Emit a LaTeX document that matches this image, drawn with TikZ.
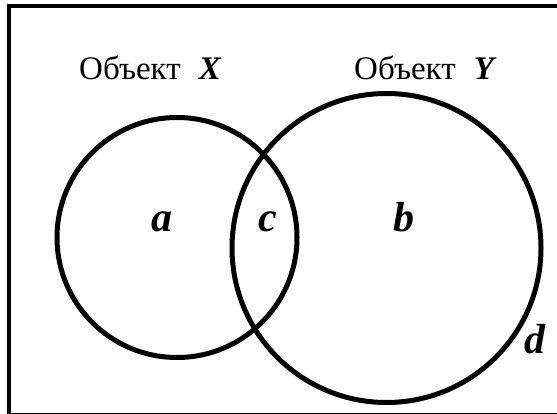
\documentclass[tikz,border=0pt]{standalone}
\usepackage{fontspec}
\setmainfont{Liberation Serif}
\begin{document}
\begin{tikzpicture}[x=1pt,y=-1pt,
  ring/.style={circle, draw, line width=5pt, inner sep=0pt},
  title/.style={anchor=base west, inner sep=0pt, font=\fontsize{33}{33}\selectfont},
  lbl/.style={anchor=base, inner sep=0pt, font=\fontsize{42}{42}\selectfont\bfseries\itshape}]
\useasboundingbox (0,0) rectangle (557,414);
\clip (0,0) rectangle (557,414);
\draw[line width=4pt] (9,6.5) rectangle (620,414.8);
\node[ring, minimum size=240pt] (cx) at (177,237.5) {};
\node[ring, minimum size=309pt] (cy) at (386.5,248) {};
\node[title] (tx) at (79,80) {Объект\hspace{0.55em}\textbf{\textit{X}}};
\node[title] (ty) at (354,80) {Объект\hspace{0.55em}\textbf{\textit{Y}}};
\node[lbl] (la) at (162,232) {a};
\node[lbl] (lc) at (268,232) {c};
\node[lbl] (lb) at (403.5,232) {b};
\node[lbl] (ld) at (535,353) {d};
\end{tikzpicture}
\end{document}
